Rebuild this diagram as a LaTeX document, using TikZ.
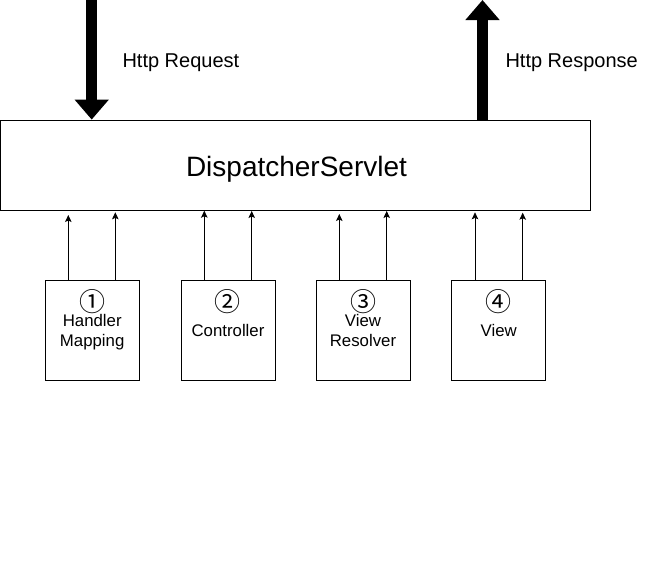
\documentclass[tikz,border=0pt]{standalone}
\usepackage{fontspec}
\setmainfont{Liberation Sans}
\newfontfamily\circfont{Noto Sans CJK SC}
\usetikzlibrary{arrows.meta}
\begin{document}
\begin{tikzpicture}[x=1pt,y=-1pt,
  box/.style={draw,line width=0.8pt,minimum width=94pt,minimum height=100pt,inner sep=0pt},
  lbl/.style={font=\fontsize{16.8}{20}\selectfont,align=center,inner sep=0pt},
  num/.style={font=\circfont\fontsize{26}{26}\selectfont,inner sep=0pt},
  small/.style={line width=0.8pt,-{Stealth[length=7pt,width=6.5pt,inset=1.5pt]}},
  big/.style={line width=10.5pt,-{Triangle[length=20pt,width=33pt]}},
  httptxt/.style={anchor=base west,font=\fontsize{20}{24}\selectfont,inner sep=0pt}
]
\useasboundingbox (0,0) rectangle (646,571);
\node[draw, line width=0.8pt, minimum width=590pt, minimum height=90pt, inner sep=0pt] (ds) at (295.4,165) {};
\node[font=\fontsize{28}{34}\selectfont, inner sep=0pt] (dstext) at (296.5,169) {DispatcherServlet};

\node[box] (hm) at (92.2,330.5) {};
\node[box] (ct) at (228,330.5) {};
\node[box] (vr) at (363,330.5) {};
\node[box] (vw) at (498.7,330.5) {};

\node[num] (n1) at (92.5,301.5) {①};
\node[num] (n2) at (227.7,301.5) {②};
\node[num] (n3) at (363.8,301.5) {③};
\node[num] (n4) at (498.3,301.5) {④};

\node[lbl] (l1) at (92.2,332.3) {Handler\\Mapping};
\node[lbl] (l2) at (228,330.5) {Controller};
\node[lbl] (l3) at (363,330.6) {View\\Resolver};
\node[lbl] (l4) at (498.7,330.5) {View};

\coordinate (t1) at (68.3,215);
\coordinate (t2) at (115.3,212.3);
\coordinate (t3) at (204.3,210.7);
\coordinate (t4) at (251.7,211);
\coordinate (t5) at (339.3,214);
\coordinate (t6) at (386.7,211);
\coordinate (t7) at (475,212.3);
\coordinate (t8) at (522.7,212.7);
\draw[small] (t1 |- hm.north) -- (t1);
\draw[small] (t2 |- hm.north) -- (t2);
\draw[small] (t3 |- ct.north) -- (t3);
\draw[small] (t4 |- ct.north) -- (t4);
\draw[small] (t5 |- vr.north) -- (t5);
\draw[small] (t6 |- vr.north) -- (t6);
\draw[small] (t7 |- vw.north) -- (t7);
\draw[small] (t8 |- vw.north) -- (t8);

\coordinate (reqtop) at (91.7,0);
\coordinate (resptop) at (482.5,0);
\draw[big] (reqtop) -- (reqtop |- ds.north);
\draw[big] (resptop |- ds.north) -- (resptop);

\node[httptxt] (req) at (122.3,67.3) {Http Request};
\node[httptxt] (resp) at (505.3,67.3) {Http Response};
\end{tikzpicture}
\end{document}
